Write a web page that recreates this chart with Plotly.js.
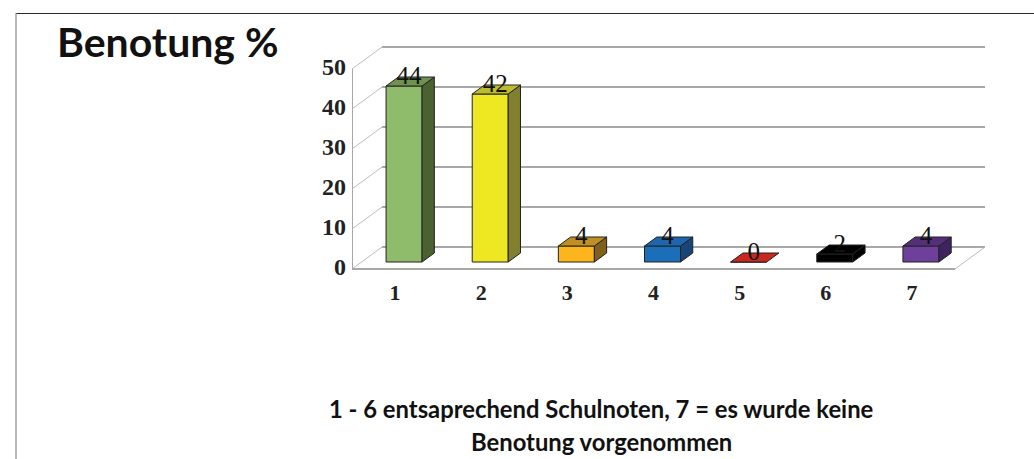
<!DOCTYPE html>
<html>
<head>
<meta charset="utf-8">
<script src="https://cdn.plot.ly/plotly-3.0.1.min.js"></script>
<style>html,body{margin:0;padding:0;background:#fff;overflow:hidden}</style>
</head>
<body>
<div id="chart" style="width:1034px;height:459px"></div>
<script>
// Grade distribution, drawn as oblique 3D columns
const categories = [1, 2, 3, 4, 5, 6, 7];
const percentages = [44, 42, 4, 4, 0, 2, 4];
const valueTicks = [0, 10, 20, 30, 40, 50];
const frontColors = ['#8fbc6a', '#ede822', '#fdb51e', '#1a6fb8', '#c8281e', '#000000', '#6e3f9b'];
const sideColors = ['#4b6130', '#80802f', '#7f6018', '#1a4475', '#7a1a14', '#000000', '#3e2360'];
const topColors = ['#6f9250', '#bdbc2b', '#bf8f22', '#1e66ad', '#c8281e', '#000000', '#54307a'];
const chartTitle = 'Benotung %';
const footnoteLines = ['1 - 6 entsaprechend Schulnoten, 7 = es wurde keine', 'Benotung vorgenommen'];

const W = 1034, H = 459;
const pxPerCategory = 603 / 7, pxPerValue = 4;

// Plot window in page pixels; the front floor edge runs along its lower left
const plotLeft = 352, plotRight = 1000, plotTop = 42, plotBottom = 271;
const xRange = [0.5, 0.5 + (plotRight - plotLeft) / pxPerCategory];
const yRange = [(269 - plotBottom) / pxPerValue, (269 - plotTop) / pxPerValue];

// Oblique projection: depth d (in px of upward shift) moves a point right and up
const shiftX = d => (d * 30 / 22) / pxPerCategory;
const shiftY = d => d / pxPerValue;
const wallDepth = 22, barFront = 7, barBack = 16;
const barOffsetX = 9 / pxPerCategory;
const barWidth = 36 / pxPerCategory;

const gridColor = '#a8a8a8', wallEdge = '#bcbcbc', outline = '#222222';
const line = (x0, y0, x1, y1, color, width) => ({
  type: 'line', xref: 'x', yref: 'y', layer: 'below',
  x0, y0, x1, y1, line: {color, width}
});

const shapes = [];
valueTicks.forEach(v => {
  // back wall rule and its slanted run down the side wall
  shapes.push(line(0.5 + shiftX(wallDepth), v + shiftY(wallDepth), 7.5 + shiftX(wallDepth), v + shiftY(wallDepth), gridColor, 2));
  shapes.push(line(0.5, v, 0.5 + shiftX(wallDepth), v + shiftY(wallDepth), wallEdge, 1));
});
shapes.push(line(0.5, 0, 7.5, 0, gridColor, 2));
shapes.push(line(7.5, 0, 7.5 + shiftX(wallDepth), shiftY(wallDepth), wallEdge, 1));
shapes.push(line(0.5, 0, 0.5, 50, gridColor, 2));

// page frame along the top and left
shapes.push({type: 'line', xref: 'paper', yref: 'paper', layer: 'below',
  x0: 16 / W, x1: 1, y0: 1 - 13.5 / H, y1: 1 - 13.5 / H, line: {color: '#2a2a2a', width: 1}});
shapes.push({type: 'line', xref: 'paper', yref: 'paper', layer: 'below',
  x0: 16 / W, x1: 16 / W, y0: 0, y1: 1 - 13 / H, line: {color: '#8a8a8a', width: 1.2}});

const polygon = (xs, ys, fill) => ({
  type: 'scatter', mode: 'lines', x: xs, y: ys, fill: 'toself', fillcolor: fill,
  line: {color: outline, width: 1}, hoverinfo: 'skip', showlegend: false
});

const traces = [];
categories.forEach((c, i) => {
  const v = percentages[i];
  const l = c + barOffsetX - barWidth / 2, r = l + barWidth;
  const b = shiftY(barFront), t = b + v;
  const dx = shiftX(barBack - barFront), dy = shiftY(barBack - barFront);
  // right side face
  if (v > 0) traces.push(polygon([r, r + dx, r + dx, r, r], [b, b + dy, t + dy, t, b], sideColors[i]));
  // top face
  traces.push(polygon([l, r, r + dx, l + dx, l], [t, t, t + dy, t + dy, t], topColors[i]));
});

// front faces
traces.push({
  type: 'bar',
  x: categories.map(c => c + barOffsetX),
  y: percentages,
  base: categories.map(() => shiftY(barFront)),
  width: barWidth,
  marker: {color: frontColors, line: {color: outline, width: 1}},
  hoverinfo: 'skip', showlegend: false
});

// value labels sit just above the centre of each top face
traces.push({
  type: 'scatter', mode: 'text',
  x: categories.map(c => c + barOffsetX + 5 / pxPerCategory),
  y: percentages.map(v => v + shiftY(barFront) + 8 / pxPerValue),
  text: percentages.map(String),
  textposition: 'middle center',
  textfont: {family: '"Liberation Serif", serif', size: 25, color: '#111111'},
  cliponaxis: false, hoverinfo: 'skip', showlegend: false
});

const layout = {
  width: W, height: H,
  margin: {l: 0, r: 0, t: 0, b: 0},
  paper_bgcolor: '#ffffff', plot_bgcolor: 'rgba(0,0,0,0)',
  showlegend: false, barmode: 'overlay',
  title: {
    text: '<b>' + chartTitle + '</b>',
    x: 57 / W, xanchor: 'left', xref: 'paper',
    y: 1 - 43 / H, yanchor: 'middle', yref: 'paper',
    font: {family: 'Lato, sans-serif', size: 41, color: '#111111'}
  },
  xaxis: {
    domain: [plotLeft / W, plotRight / W], range: xRange,
    tickmode: 'array', tickvals: categories, ticktext: categories.map(String),
    showgrid: false, zeroline: false, showline: false, ticks: '',
    tickfont: {family: '"Liberation Serif", serif', size: 22, color: '#222222', weight: 700},
    ticklabelstandoff: 6
  },
  yaxis: {
    domain: [1 - plotBottom / H, 1 - plotTop / H], range: yRange,
    tickmode: 'array', tickvals: valueTicks, ticktext: valueTicks.map(String),
    showgrid: false, zeroline: false, showline: false, ticks: '',
    tickfont: {family: '"Liberation Serif", serif', size: 24, color: '#222222', weight: 700},
    ticklabelstandoff: 5, ticklabelshift: -2
  },
  shapes,
  annotations: footnoteLines.map((t, i) => ({
    text: '<b>' + t + '</b>', showarrow: false,
    xref: 'paper', yref: 'paper', x: 601 / W, y: 1 - (i === 0 ? 409 : 442) / H,
    xanchor: 'center', yanchor: 'middle',
    font: {family: 'Lato, sans-serif', size: 23.8, color: '#111111'}
  }))
};

Plotly.newPlot('chart', traces, layout, {staticPlot: true, displayModeBar: false});
</script>
</body>
</html>
